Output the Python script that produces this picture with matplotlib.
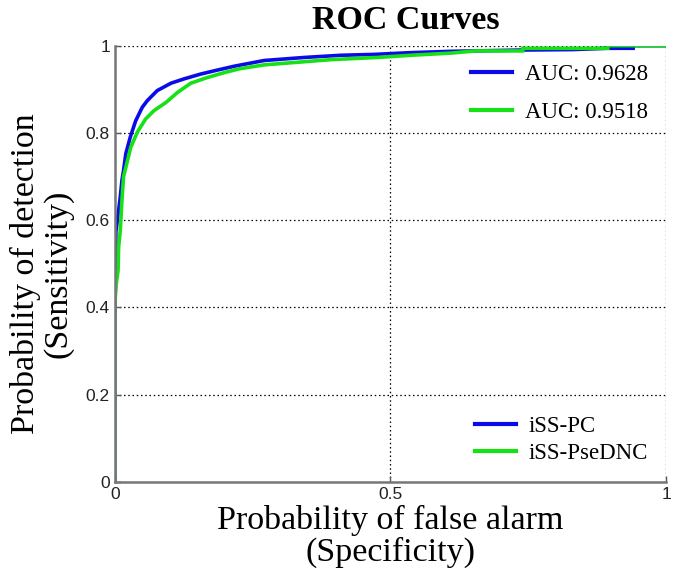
import matplotlib
matplotlib.use("Agg")
import matplotlib.pyplot as plt
from matplotlib.lines import Line2D

# Data
fpr_pc = [0, 0, 0.002, 0.002, 0.007, 0.010, 0.013, 0.016, 0.020, 0.028, 0.038, 0.050, 0.059, 0.077,
          0.102, 0.126, 0.156, 0.186, 0.217, 0.271, 0.344, 0.410, 0.471, 0.537, 0.610, 0.655,
          0.74, 0.83, 0.894, 0.94, 0.94, 1.0]
tpr_pc = [0, 0.40, 0.47, 0.573, 0.622, 0.653, 0.691, 0.714, 0.752, 0.790, 0.828, 0.859, 0.874, 0.897,
          0.914, 0.924, 0.935, 0.944, 0.953, 0.966, 0.973, 0.978, 0.980, 0.984, 0.987, 0.988,
          0.990, 0.991, 0.994, 0.994, 1.0, 1.0]
fpr_dnc = [0, 0, 0.002, 0.006, 0.007, 0.010, 0.013, 0.016, 0.029, 0.041, 0.056, 0.071, 0.093, 0.114,
           0.138, 0.168, 0.198, 0.226, 0.271, 0.332, 0.392, 0.477, 0.537, 0.610, 0.655,
           0.74, 0.74, 0.894, 0.894, 1.0]
tpr_dnc = [0, 0.40, 0.447, 0.485, 0.538, 0.577, 0.645, 0.70, 0.767, 0.802, 0.832, 0.851, 0.870, 0.893,
           0.914, 0.927, 0.938, 0.947, 0.956, 0.962, 0.968, 0.973, 0.978, 0.983, 0.988,
           0.988, 0.994, 0.994, 1.0, 1.0]
auc_labels = ["AUC: 0.9628", "AUC: 0.9518"]
names = ["iSS-PC", "iSS-PseDNC"]
xticks = [0, 0.5, 1]
xticklabels = ["0", "0.5", "1"]
yticks = [0, 0.2, 0.4, 0.6, 0.8, 1]
yticklabels = ["0", "0.2", "0.4", "0.6", "0.8", "1"]

BLUE = "#0b0be8"
GREEN = "#16e016"
SERIF = ["Liberation Serif", "DejaVu Serif"]
SANS = ["Liberation Sans", "DejaVu Sans"]

fig = plt.figure(figsize=(6.75, 5.78), dpi=100)
ax = fig.add_axes([0.170, 0.166, 0.817, 0.755])

ax.plot(fpr_pc, tpr_pc, color=BLUE, lw=2.6, solid_joinstyle="miter")
ax.plot(fpr_dnc, tpr_dnc, color=GREEN, lw=2.6, solid_joinstyle="miter")

ax.set_xlim(0, 1)
ax.set_ylim(0, 1)
ax.set_xticks(xticks)
ax.set_xticklabels(xticklabels, family=SANS, fontsize=12.5, color="#222222")
ax.set_yticks(yticks)
ax.set_yticklabels(yticklabels, family=SANS, fontsize=12.5, color="#222222")
ax.tick_params(direction="in", length=4, width=1, color="#555555", pad=3.5)
ax.grid(True, color="black", linestyle=(0, (1.2, 2.2)), lw=0.9)
ax.set_axisbelow(True)
for s in ["top", "right"]:
    ax.spines[s].set_visible(False)
for s in ["left", "bottom"]:
    ax.spines[s].set_color("#777777")
    ax.spines[s].set_linewidth(1.8)

ax.set_title("ROC Curves", family=SERIF, fontweight="bold", fontsize=24.5, pad=12, x=0.528)
ax.set_xlabel("Probability of false alarm\n(Specificity)", family=SERIF, fontsize=24.5,
              linespacing=1.05, labelpad=2)
ax.set_ylabel("Probability of detection\n(Sensitivity)", family=SERIF, fontsize=24.5,
              linespacing=1.08)
ax.yaxis.set_label_coords(-0.075, 0.478)

h1 = [Line2D([], [], color=BLUE, lw=3), Line2D([], [], color=GREEN, lw=3)]
leg1 = ax.legend(h1, auc_labels, loc="upper right", frameon=False,
                 prop={"family": SERIF, "size": 16.5}, handlelength=1.8,
                 handletextpad=0.55, labelspacing=0.75, borderaxespad=0.4)
ax.add_artist(leg1)
h2 = [Line2D([], [], color=BLUE, lw=3), Line2D([], [], color=GREEN, lw=3)]
ax.legend(h2, names, loc="lower right", frameon=False,
          prop={"family": SERIF, "size": 16.5}, handlelength=1.8,
          handletextpad=0.55, labelspacing=0.25, borderaxespad=0.4)

fig.savefig("out.png", dpi=100)
